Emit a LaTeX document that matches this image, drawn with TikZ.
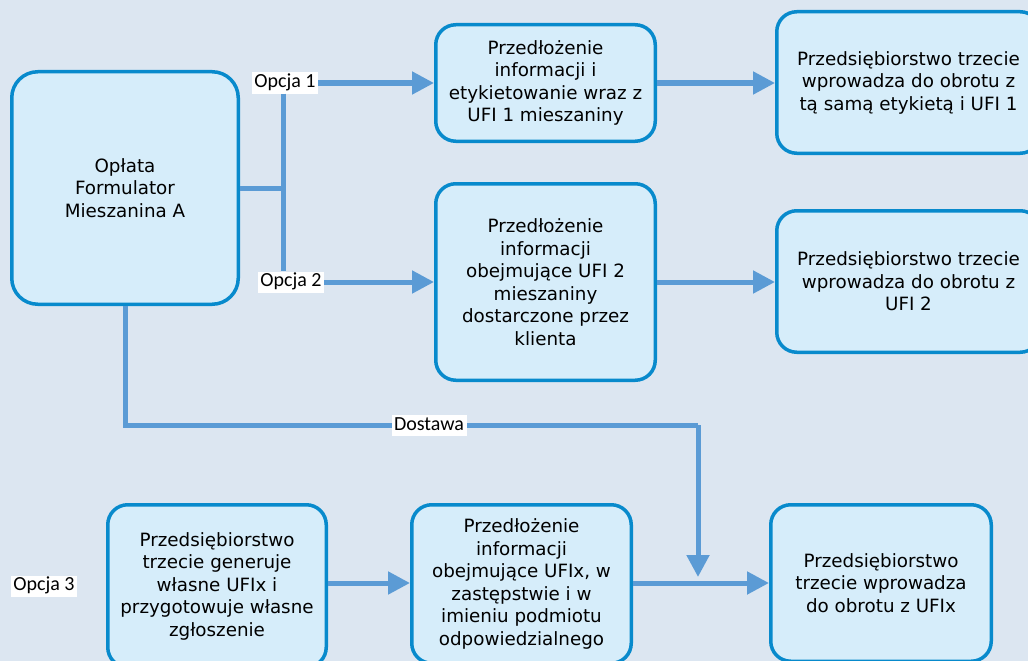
\documentclass[tikz,border=0pt]{standalone}
\usepackage{fontspec}
\setmainfont{DejaVu Sans}
\newfontfamily\labelfont{Carlito}
\usetikzlibrary{arrows.meta}
\definecolor{bgcol}{RGB}{220,230,241}
\definecolor{boxfill}{RGB}{214,237,250}
\definecolor{boxline}{RGB}{8,138,204}
\definecolor{linkcol}{RGB}{91,155,213}

\begin{document}
\begin{tikzpicture}[x=1pt,y=-1pt,
  stage/.style={draw=boxline, fill=boxfill, line width=3.5pt, rounded corners=20pt,
    align=center, inner sep=0pt, font=\fontsize{18.3}{22.5}\selectfont},
  tag/.style={fill=white, inner xsep=2.5pt, inner ysep=0pt, text height=15pt,
    text depth=6pt, font=\labelfont\fontsize{20}{24}\selectfont},
  link/.style={draw=linkcol, line width=5pt},
  flow/.style={link, -{Triangle[length=22pt,width=22pt]}}]

\useasboundingbox (0,0) rectangle (1028,661);
\clip (0,0) rectangle (1028,661);
\fill[bgcol] (0,0) rectangle (1028,661);

% process boxes
\node[stage, rounded corners=26pt, minimum width=226.5pt, minimum height=232.5pt] (A) at (125,188)
  {Opłata\\Formulator\\Mieszanina A};
\node[stage, minimum width=219.5pt, minimum height=116.5pt] (P1) at (545.5,83)
  {Przedłożenie\\informacji i\\etykietowanie wraz z\\UFI 1 mieszaniny};
\node[stage, minimum width=263.5pt, minimum height=141.5pt] (R1) at (908.5,82.5)
  {Przedsiębiorstwo trzecie\\wprowadza do obrotu z\\tą samą etykietą i UFI 1};
\node[stage, minimum width=219.5pt, minimum height=196.5pt] (P2) at (545.5,282)
  {Przedłożenie\\informacji\\obejmujące UFI 2\\mieszaniny\\dostarczone przez\\klienta};
\node[stage, minimum width=263.5pt, minimum height=141.5pt] (R2) at (908.5,281.5)
  {Przedsiębiorstwo trzecie\\wprowadza do obrotu z\\UFI 2};
\node[stage, minimum width=218.5pt, minimum height=162.5pt] (B3) at (217,586)
  {Przedsiębiorstwo\\trzecie generuje\\własne UFIx i\\przygotowuje własne\\zgłoszenie};
\node[stage, minimum width=219.5pt, minimum height=158.5pt] (P3) at (521.5,584)
  {Przedłożenie\\informacji\\obejmujące UFIx, w\\zastępstwie i w\\imieniu podmiotu\\odpowiedzialnego};
\node[stage, minimum width=220.5pt, minimum height=156.5pt] (R3) at (881,583)
  {Przedsiębiorstwo\\trzecie wprowadza\\do obrotu z UFIx};

% junction points of the connectors
\coordinate (j) at (283,188);
\coordinate (d1) at (125,425);
\coordinate (d2) at (698,425);
\coordinate (dtip) at (698,577);
\coordinate (m3) at (0,583);

% option labels
\node[tag] (o1) at (285,83) {Opcja 1};
\node[tag] (o2) at (291,282) {Opcja 2};
\node[tag] (o3) at (44,586) {Opcja 3};

% connectors
\draw[link] (A.east |- j) -- (j);
\draw[link] (j |- o1.south) -- (j |- o2.north);
\draw[flow] (o1.east) -- (o1.east -| P1.west);
\draw[flow] (o2.east) -- (o2.east -| P2.west);
\draw[flow] (P1.east) -- (P1.east -| R1.west);
\draw[flow] (P2.east) -- (P2.east -| R2.west);
\draw[link] (A.south) -- (d1) -- (d2);
\draw[flow] (d2) -- (dtip);
\draw[flow] (B3.east |- m3) -- (P3.west |- m3);
\draw[flow] (P3.east |- m3) -- (R3.west |- m3);

\node[tag] (dost) at (429,425.5) {Dostawa};
\end{tikzpicture}
\end{document}
